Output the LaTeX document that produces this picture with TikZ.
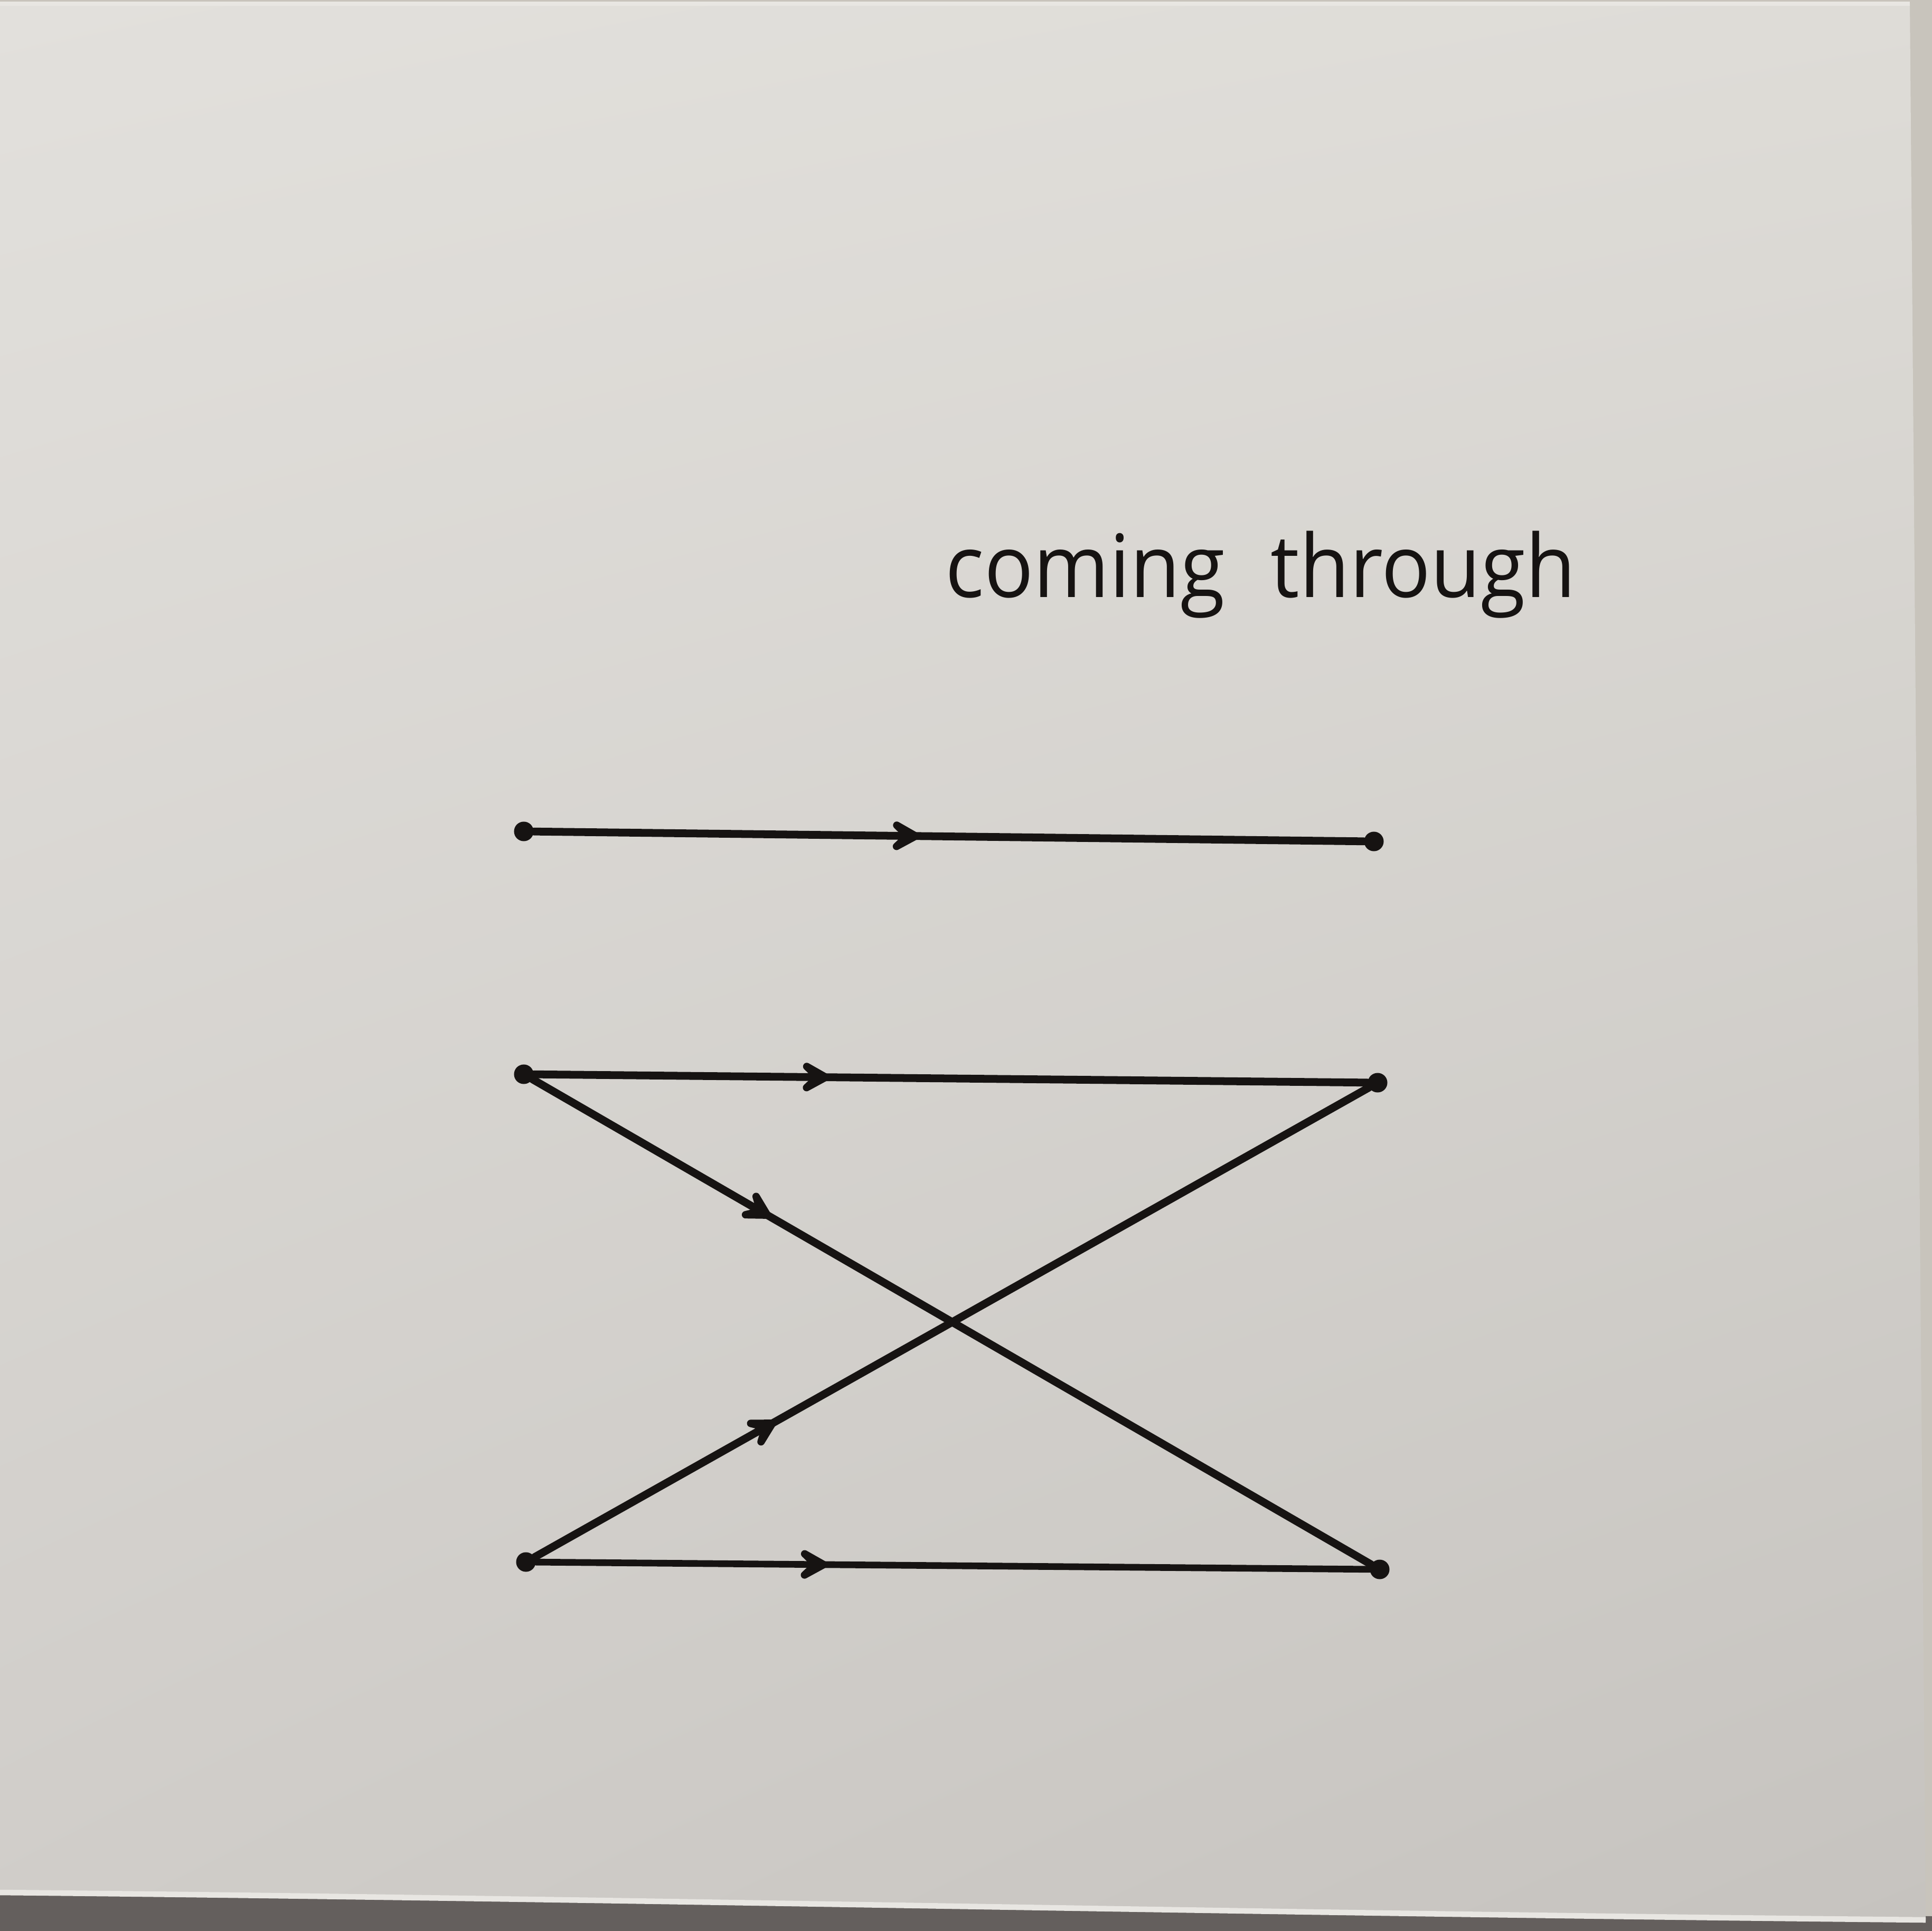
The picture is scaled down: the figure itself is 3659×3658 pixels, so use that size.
\documentclass[tikz,border=0pt]{standalone}
\usepackage{fontspec}
\newfontfamily\titlefont{Open Sans}
\usetikzlibrary{decorations.markings,shadings}
\definecolor{ink}{RGB}{22,19,18}
\definecolor{wall}{RGB}{200,196,188}
\definecolor{floorc}{RGB}{100,95,93}
\definecolor{cUL}{RGB}{226,224,220}
\definecolor{cUR}{RGB}{222,220,215}
\definecolor{cLL}{RGB}{208,205,201}
\definecolor{cLR}{RGB}{198,195,191}
\definecolor{edgehi}{RGB}{232,230,226}
\tikzset{
  dotnode/.style={circle, fill=ink, inner sep=0pt, minimum size=0.37cm},
  barbtip/.style={draw=ink, fill=ink, line width=4pt, line join=round},
  conn/.style={draw=ink, line width=4.2pt, line cap=round,
    postaction={decorate},
    decoration={markings, mark=at position #1 with {\path[barbtip] (0,0) -- (-0.36cm,0.2cm) -- (-0.15cm,0) -- (-0.36cm,-0.2cm) -- cycle;}}},
  thinconn/.style={conn=#1, line width=3.6pt},
  titletext/.style={anchor=base west, inner sep=0pt, text=ink, font=\titlefont\fontsize{47pt}{50pt}\selectfont}
}
\begin{document}
\begin{tikzpicture}[x=0.01cm, y=0.01cm]
\useasboundingbox (0,0) rectangle (3659,-3658);
% wall and floor
\fill[wall] (0,0) rectangle (3659,-3658);
\fill[floorc] (0,-3580) -- (3659,-3630) -- (3659,-3658) -- (0,-3658) -- cycle;
% canvas
\shade[upper left=cUL, upper right=cUR, lower left=cLL, lower right=cLR]
  (0,-6) -- (3617,-6) -- (3647,-3637) .. controls (2400,-3625) and (1200,-3597) .. (0,-3585) -- cycle;
\draw[edgehi, line width=3pt] (3647,-3637) .. controls (2400,-3625) and (1200,-3597) .. (0,-3585);
\draw[edgehi, line width=2pt] (0,-7) -- (3617,-7);

% title
\node[titletext] (title) at (1790,-1132) {\scalebox{0.935}[1]{coming\hspace{0.5cm} through}};

% dots
\node[dotnode] (a1) at (992,-1575) {};
\node[dotnode] (b1) at (2602,-1594) {};
\node[dotnode] (a2) at (992,-2035) {};
\node[dotnode] (b2) at (2609,-2051) {};
\node[dotnode] (a3) at (996,-2959) {};
\node[dotnode] (b3) at (2613,-2973) {};

% connectors
\draw[conn=0.46] (a1) -- (b1);
\draw[conn=0.35] (a2) -- (b2);
\draw[thinconn=0.345] (a3) -- (b3);
\draw[conn=0.28] (a2) -- (b3);
\draw[conn=0.285] (a3) -- (b2);
\end{tikzpicture}
\end{document}
